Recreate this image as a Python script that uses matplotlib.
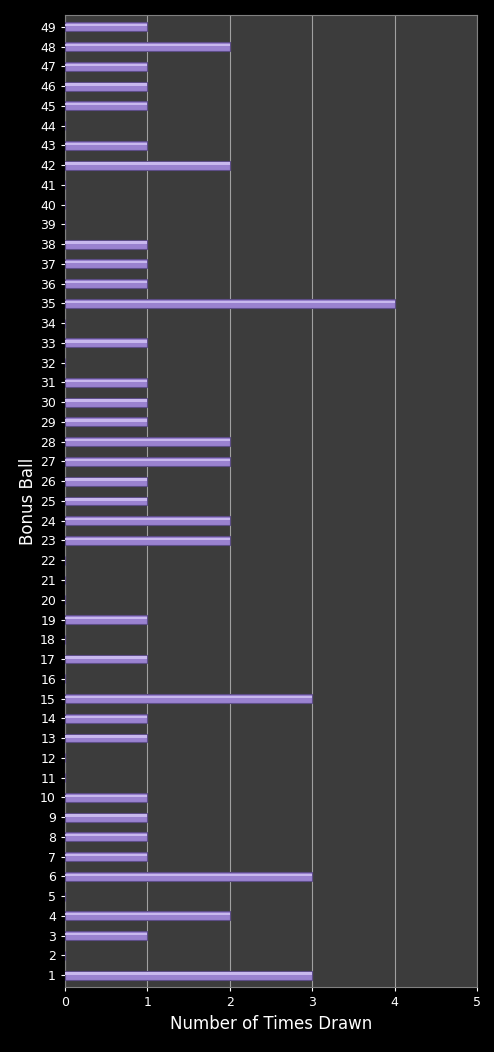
import numpy as np
import matplotlib.pyplot as plt

balls = list(range(1, 50))
times_drawn = [3, 0, 1, 2, 0, 3, 1, 1, 1, 1,
               0, 0, 1, 1, 3, 0, 1, 0, 1, 0,
               0, 0, 2, 2, 1, 1, 2, 2, 1, 1,
               1, 0, 1, 0, 4, 1, 1, 1, 0, 0,
               0, 2, 1, 0, 1, 1, 1, 2, 1]

fig = plt.figure(figsize=(4.94, 10.52), dpi=100, facecolor="black")
ax = fig.add_axes([0.1316, 0.0618, 0.834, 0.924], facecolor="#3c3c3c")

y = np.array(balls)
vals = np.array(times_drawn)
ax.barh(y, vals, height=0.45, color="#9a82d0", edgecolor="#5e4e88", linewidth=0.8, zorder=3)
# light highlight along the top of each bar
ax.barh(y + 0.08, vals, height=0.12, color="#c8b8ee", linewidth=0, zorder=4)

ax.set_xlim(0, 5)
ax.set_ylim(0.4, 49.6)
ax.set_xticks(range(6))
ax.set_yticks(balls)
ax.grid(axis="x", color="#a0a0a0", linewidth=0.8, zorder=1)
ax.tick_params(colors="white", labelsize=9, length=3)
for s in ax.spines.values():
    s.set_color("#808080")
ax.set_xlabel("Number of Times Drawn", color="white", fontsize=12)
ax.set_ylabel("Bonus Ball", color="white", fontsize=12, labelpad=2)

fig.savefig("out.png", dpi=100, facecolor="black")
